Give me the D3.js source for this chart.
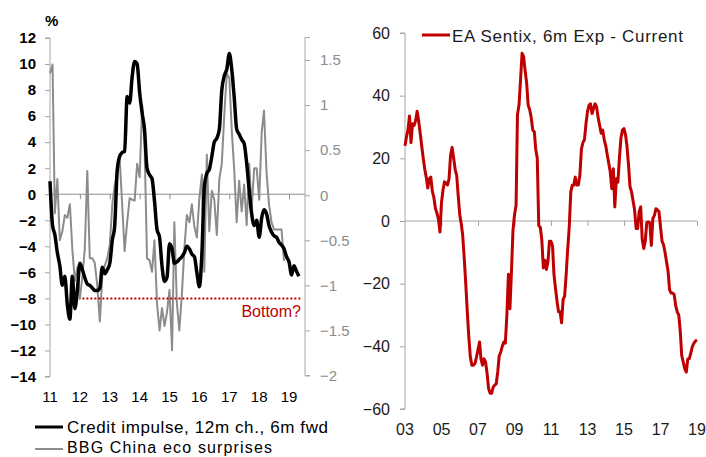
<!DOCTYPE html>
<html>
<head>
<meta charset="utf-8">
<script src="https://cdn.jsdelivr.net/npm/d3@7"></script>
<style>
  html, body { margin: 0; padding: 0; background: #fff; }
  svg { display: block; }
  text { font-family: "Liberation Sans", Arial, sans-serif; }
</style>
</head>
<body>
<svg id="chart" width="706" height="457"></svg>
<script>
// ---------------- DATA ----------------
// Left panel: monthly, starting Jan 2011
const creditStart = [2011, 0];
const creditImpulse = [
  1.0, -2.4, -3.1, -4.5, -5.5, -7.0, -6.3, -8.5, -9.6, -6.3,
  -8.8, -7.4, -5.3, -5.8, -6.4, -6.9, -7.0, -7.2, -7.4, -7.4,
  -7.2, -5.6, -6.1, -5.8, -5.3, -3.5, -2.5, 1.8, 2.9, 3.2,
  3.3, 7.5, 7.0, 9.0, 10.2, 10.0, 7.8, 6.2, 5.0, 2.0,
  1.5, 1.2, -0.5, -2.7, -3.3, -5.5, -6.7, -6.4, -3.8, -4.2,
  -5.3, -5.2, -5.0, -4.8, -4.5, -4.0, -4.2, -4.6, -4.8, -6.0,
  -7.1, -4.5, 0.5, 1.6, 1.9, 2.9, 4.0, 4.3, 5.0, 8.0,
  9.1, 9.6, 10.8, 9.5, 7.5, 5.0, 4.6, 4.2, 3.9, 2.4,
  0.3, -1.5, -2.4, -2.0, -3.3, -1.8, -1.2, -1.5, -2.4, -2.9,
  -3.2, -3.3, -3.7, -3.9, -4.2, -4.8, -5.2, -6.2, -5.5, -5.9,
  -6.3
];
const chinaStart = [2011, 0];
const chinaSurprises = [
  1.35, 1.45, -0.2, 0.18, -0.5, -0.4, -0.22, -0.25, -0.1, -0.6,
  -0.95, -0.8, -1.15, -0.9, -0.6, 0.27, -0.7, -0.7, -0.75, -1.0,
  -1.4, -0.9, -0.78, -0.7, -0.55, -0.1, 0.1, 0.25, 0.42, -0.1,
  -0.62, -0.3, -0.03, -0.05, -0.06, 0.35, 0.2, 1.0, 0.6, -0.7,
  -0.72, -0.85, -0.5, -1.2, -1.5, -1.25, -1.45, -1.3, -1.05, -1.72,
  -0.3, -1.2, -1.5, -1.1, -0.6, -0.22, -0.3, -0.1, -0.35, -0.47,
  -0.03, 0.23, -0.85, 0.45, -0.4, 0.05, -0.05, -0.44, 0.18, 0.35,
  0.9, 1.35, 1.3, 0.7, 0.3, -0.3, 0.16, -0.18, 0.12, -0.33,
  0.35, -0.15, 0.3, 0.3, -0.05, 0.7, 0.94, 0.25, -0.1, -0.3,
  -0.38, -0.38, -0.38, -0.38, -0.73
];
const bottomLevel = -8;
const bottomFrom = [2012, 1];
const bottomTo = [2019, 5];
const leftYTicks = [12, 10, 8, 6, 4, 2, 0, -2, -4, -6, -8, -10, -12, -14];
const rightYTicks = [1.5, 1, 0.5, 0, -0.5, -1, -1.5, -2];
const leftXTickYears = [2011, 2012, 2013, 2014, 2015, 2016, 2017, 2018, 2019];
const leftXTickLabels = ["11", "12", "13", "14", "15", "16", "17", "18", "19"];
const leftLegend = ["Credit impulse, 12m ch., 6m fwd", "BBG China eco surprises"];

// Right panel: monthly, starting Jan 2003
const sentixStart = [2003, 0];
const sentix = [
  24, 27, 29, 33.5, 25, 31, 30.5, 32, 35, 32,
  28, 24, 20, 16.5, 14, 10.5, 13.5, 14, 9.5, 7.5,
  4, 2.5, 0.5, -3.5, 6, 10, 12.5, 12, 11.5, 13.5,
  21, 23.5, 20, 16.5, 14.5, 8, 2, -1, -4.6, -12,
  -20, -29, -37, -43.5, -46, -46, -45.5, -43.5, -41, -38.6,
  -44, -46, -44, -45, -48.5, -53.5, -55, -55, -53, -52.4,
  -52, -48, -43, -41.8, -40, -38.6, -39, -30, -17, -28,
  -16, -3, 2, 5, 34, 37, 45, 53.5, 52.5, 48,
  44, 37, 35.5, 33, 29, 28.5, 23, 20, -1.5, -2,
  -6, -15, -12.5, -15.5, -13, -6.5, -6.5, -8, -17, -21.5,
  -25.5, -29, -29, -32.5, -25, -24, -17, -9, -2, 9.3,
  11.4, 11.4, 14, 11.5, 11.5, 14.6, 23, 25, 26, 31,
  35, 37, 37.4, 34.3, 35.9, 37.4, 36.5, 33, 30.5, 28,
  29, 26, 24, 21, 18.5, 15.6, 10.3, 16.7, 4.5, 13.5,
  12.4, 20, 26.5, 29, 29.5, 27.5, 24, 18, 11, 9.3,
  6.5, 3.5, -2.4, -2.4, 3, 4.5, -6, -8.8, -6.5, -0.5,
  -0.3, -0.5, -7.8, 0.8, 1.8, 3.9, 3.5, 3, -2, -6.5,
  -7.5, -10, -13, -16, -22, -23, -23, -23.5, -27, -29,
  -30, -35.4, -42.9, -45, -47.1, -48.2, -44, -43.9, -42, -40,
  -39, -38.3, -38
];
const sentixYTicks = [60, 40, 20, 0, -20, -40, -60];
const sentixXTickYears = [2003, 2005, 2007, 2009, 2011, 2013, 2015, 2017, 2019];
const sentixXTickLabels = ["03", "05", "07", "09", "11", "13", "15", "17", "19"];
const sentixLegend = "EA Sentix, 6m Exp - Current";

// ---------------- DRAW ----------------
const svg = d3.select("#chart");
const FONT = '"Liberation Sans", Arial, sans-serif';
const monthDate = (start, i) => new Date(start[0], start[1] + i, 1);

// ===== Left panel =====
const xL = d3.scaleTime().domain([new Date(2011, 0, 1), new Date(2019, 6, 15)]).range([50, 305]);
const yL = d3.scaleLinear().domain([-14, 12]).range([376.5, 38]);
const yR = d3.scaleLinear().domain([-2, 1.75]).range([375.5, 37.5]);

// left axis
const gLA = svg.append("g").attr("transform", "translate(50,0)")
  .call(d3.axisLeft(yL).tickValues(leftYTicks).tickSize(5).tickPadding(9).tickFormat(d3.format("d")));
gLA.select(".domain").attr("stroke", "#a6a6a6").attr("d", `M-5,${yL(12)}H0V${yL(-14)}H-5`);
gLA.selectAll(".tick line").attr("stroke", "#a6a6a6");
gLA.selectAll(".tick text").attr("font-family", FONT).attr("font-size", 15).attr("font-weight", "bold").attr("fill", "#000");

// right axis (secondary)
const gRA = svg.append("g").attr("transform", "translate(305,0)")
  .call(d3.axisRight(yR).tickValues(rightYTicks).tickSize(5).tickPadding(10).tickFormat(d => d3.format("")(d)));
gRA.select(".domain").attr("stroke", "#a6a6a6").attr("d", `M5,${yR(1.75)}H0V${yR(-2)}H5`);
gRA.selectAll(".tick line").attr("stroke", "#a6a6a6");
gRA.selectAll(".tick text").attr("font-family", FONT).attr("font-size", 15).attr("fill", "#8c8c8c");

// x axis at zero
const gLX = svg.append("g").attr("transform", `translate(0,${yL(0)})`)
  .call(d3.axisBottom(xL).tickValues(leftXTickYears.slice(1).map(y => new Date(y, 0, 1))).tickSize(5).tickFormat(""));
gLX.select(".domain").attr("stroke", "#8c8c8c").attr("d", `M50,0H305`);
gLX.selectAll(".tick line").attr("stroke", "#8c8c8c");

// x labels at bottom
svg.append("g").selectAll("text").data(leftXTickYears).join("text")
  .attr("x", d => xL(new Date(d, 0, 1)))
  .attr("y", 402)
  .attr("text-anchor", "middle")
  .attr("font-family", FONT).attr("font-size", 15).attr("fill", "#000")
  .text((d, i) => leftXTickLabels[i]);

svg.append("text").attr("x", 45).attr("y", 26).attr("font-family", FONT)
  .attr("font-size", 15).attr("font-weight", "bold").text("%");

// lines
const grayLine = d3.line().x((d, i) => xL(monthDate(chinaStart, i))).y(d => yR(d));
svg.append("path").datum(chinaSurprises).attr("d", grayLine)
  .attr("fill", "none").attr("stroke", "#8c8c8c").attr("stroke-width", 2).attr("stroke-linejoin", "round");

const blackLine = d3.line().x((d, i) => xL(monthDate(creditStart, i))).y(d => yL(d)).curve(d3.curveMonotoneX);
svg.append("path").datum(creditImpulse).attr("d", blackLine)
  .attr("fill", "none").attr("stroke", "#000").attr("stroke-width", 3.5).attr("stroke-linejoin", "round");

// bottom dotted line
svg.append("line")
  .attr("x1", xL(new Date(bottomFrom[0], bottomFrom[1], 1)))
  .attr("x2", xL(new Date(bottomTo[0], bottomTo[1], 1)))
  .attr("y1", yL(bottomLevel)).attr("y2", yL(bottomLevel))
  .attr("stroke", "#c00000").attr("stroke-width", 2).attr("stroke-dasharray", "2,2");
svg.append("text").attr("x", 301).attr("y", 317).attr("text-anchor", "end")
  .attr("font-family", FONT).attr("font-size", 16).attr("fill", "#c00000").text("Bottom?");

// left legend
svg.append("line").attr("x1", 35).attr("x2", 63).attr("y1", 427).attr("y2", 427)
  .attr("stroke", "#000").attr("stroke-width", 3);
svg.append("text").attr("x", 67).attr("y", 433).attr("font-family", FONT).attr("font-size", 17)
  .attr("textLength", 261).attr("lengthAdjust", "spacing").text(leftLegend[0]);
svg.append("line").attr("x1", 35).attr("x2", 63).attr("y1", 449).attr("y2", 449)
  .attr("stroke", "#8c8c8c").attr("stroke-width", 2);
svg.append("text").attr("x", 67).attr("y", 453).attr("font-family", FONT).attr("font-size", 16)
  .attr("textLength", 205).attr("lengthAdjust", "spacing").text(leftLegend[1]);

// ===== Right panel =====
const xS = d3.scaleTime().domain([new Date(2003, 0, 1), new Date(2019, 0, 1)]).range([405, 697]);
const yS = d3.scaleLinear().domain([-60, 60]).range([409, 33]);

const gSA = svg.append("g").attr("transform", "translate(405,0)")
  .call(d3.axisLeft(yS).tickValues(sentixYTicks).tickSize(5).tickPadding(10));
gSA.select(".domain").attr("stroke", "#a6a6a6").attr("d", `M-5,${yS(60)}H0V${yS(-60)}H-5`);
gSA.selectAll(".tick line").attr("stroke", "#a6a6a6");
gSA.selectAll(".tick text").attr("font-family", FONT).attr("font-size", 16).attr("fill", "#1a1a1a");

const gSX = svg.append("g").attr("transform", `translate(0,${yS(0)})`)
  .call(d3.axisBottom(xS).tickValues(sentixXTickYears.slice(1).map(y => new Date(y, 0, 1))).tickSize(5).tickFormat(""));
gSX.select(".domain").attr("stroke", "#a6a6a6").attr("d", `M405,0H697`);
gSX.selectAll(".tick line").attr("stroke", "#a6a6a6");

svg.append("g").selectAll("text").data(sentixXTickYears).join("text")
  .attr("x", d => xS(new Date(d, 0, 1)))
  .attr("y", 435)
  .attr("text-anchor", "middle")
  .attr("font-family", FONT).attr("font-size", 16).attr("fill", "#1a1a1a")
  .text((d, i) => sentixXTickLabels[i]);

const redLine = d3.line().x((d, i) => xS(monthDate(sentixStart, i))).y(d => yS(d));
svg.append("path").datum(sentix).attr("d", redLine)
  .attr("fill", "none").attr("stroke", "#c00000").attr("stroke-width", 3).attr("stroke-linejoin", "round");

svg.append("line").attr("x1", 422).attr("x2", 450).attr("y1", 35).attr("y2", 35)
  .attr("stroke", "#c00000").attr("stroke-width", 3);
svg.append("text").attr("x", 452).attr("y", 41.5).attr("font-family", FONT).attr("font-size", 17)
  .attr("textLength", 231).attr("lengthAdjust", "spacing").attr("fill", "#1a1a1a").text(sentixLegend);
</script>
</body>
</html>
